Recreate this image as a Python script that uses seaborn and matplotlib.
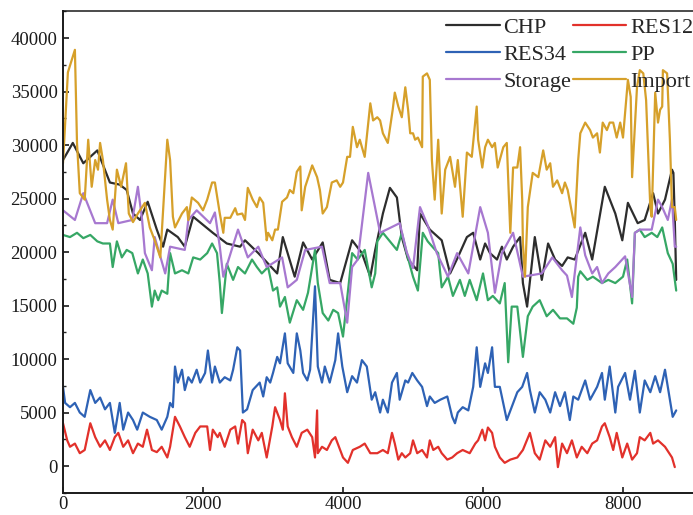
import matplotlib
matplotlib.use("Agg")
import matplotlib.pyplot as plt
import seaborn as sns

# ---- hourly-dispatch samples (x = hour of year, y = power) ----
chp_x = [0, 140, 290, 490, 670, 810, 910, 1000, 1100, 1210,
         1340, 1430, 1490, 1640, 1740, 1860, 2140, 2340, 2530, 2600,
         2790, 3060, 3140, 3310, 3430, 3560, 3710, 3810, 3960, 4130,
         4270, 4390, 4460, 4570, 4670, 4770, 4840, 4930, 5060, 5100,
         5240, 5410, 5530, 5640, 5770, 5860, 5960, 6030, 6100, 6200,
         6270, 6340, 6430, 6530, 6570, 6630, 6740, 6840, 6930, 7030,
         7130, 7210, 7310, 7460, 7560, 7740, 7890, 7990, 8070, 8210,
         8310, 8430, 8500, 8600, 8700, 8720, 8740, 8760]
chp_y = [28600, 30200, 28300, 29500, 26500, 26300, 25800, 23600, 23000, 24700,
         22100, 20500, 22100, 21400, 20500, 23300, 21800, 20800, 20500, 21100,
         19900, 18000, 21400, 17700, 20900, 19300, 20900, 17400, 17100, 21100,
         19900, 17700, 20200, 23600, 26000, 25100, 21400, 19300, 18300, 23600,
         22100, 21100, 18000, 19500, 21400, 21800, 19300, 20800, 19900, 19300,
         20500, 19300, 20500, 21400, 17100, 14900, 21400, 17400, 20800, 19300,
         18700, 19500, 19300, 21800, 19300, 26100, 23600, 21100, 24600, 22700,
         23000, 25500, 23600, 24900, 27700, 27400, 23000, 17400]

res12_x = [0, 60, 100, 170, 240, 310, 390, 460, 530, 600,
           670, 740, 790, 860, 930, 1000, 1070, 1140, 1200, 1270,
           1340, 1410, 1490, 1530, 1600, 1670, 1740, 1810, 1890, 1960,
           2060, 2100, 2140, 2210, 2240, 2310, 2390, 2460, 2500, 2560,
           2600, 2640, 2710, 2790, 2840, 2910, 2990, 3030, 3100, 3140,
           3170, 3210, 3270, 3340, 3410, 3490, 3560, 3600, 3630, 3640,
           3700, 3770, 3840, 3890, 3960, 4000, 4070, 4140, 4240, 4310,
           4390, 4490, 4570, 4640, 4700, 4740, 4790, 4840, 4890, 4960,
           5000, 5060, 5130, 5200, 5240, 5290, 5360, 5410, 5490, 5560,
           5630, 5710, 5810, 5890, 5930, 5990, 6030, 6070, 6130, 6170,
           6240, 6310, 6390, 6490, 6570, 6670, 6740, 6810, 6890, 6960,
           7030, 7070, 7130, 7200, 7270, 7340, 7410, 7490, 7560, 7630,
           7700, 7740, 7810, 7860, 7910, 7990, 8060, 8130, 8200, 8240,
           8310, 8390, 8430, 8500, 8600, 8700, 8740]
res12_y = [4000, 2400, 1800, 2100, 1200, 1500, 4000, 2700, 1800, 2400,
           1500, 2700, 3100, 1800, 2400, 1200, 2100, 1800, 3400, 1500,
           1300, 1800, 800, 1800, 4600, 3700, 2700, 1800, 3100, 3700,
           3700, 1500, 3400, 2700, 3100, 1800, 3400, 3700, 2100, 4300,
           4000, 1200, 3400, 2400, 3100, 800, 3700, 5500, 4300, 3400,
           6800, 3700, 2700, 1800, 3100, 3400, 2700, 800, 5200, 1200,
           1800, 1500, 2400, 2700, 1500, 800, 300, 1500, 1800, 2100,
           1200, 1200, 1500, 1200, 3100, 2100, 600, 1200, 800, 1200,
           2400, 1200, 1500, 800, 2400, 1500, 1800, 1200, 600, 800,
           1200, 1500, 1200, 2100, 2400, 3400, 2400, 3600, 3100, 1800,
           800, 300, 600, 800, 1500, 3100, 1200, 600, 2400, 1800,
           2700, -100, 2100, 1200, 2400, 800, 1800, 1200, 2100, 2400,
           3700, 4000, 2700, 1500, 3100, 800, 2100, 600, 1200, 2700,
           2400, 3100, 2100, 2400, 1800, 800, -100]

res34_x = [0, 30, 100, 170, 240, 310, 390, 460, 530, 600,
           670, 740, 810, 860, 930, 1000, 1060, 1140, 1240, 1340,
           1410, 1490, 1530, 1570, 1600, 1640, 1700, 1740, 1790, 1840,
           1910, 1960, 2030, 2070, 2130, 2170, 2240, 2310, 2390, 2430,
           2490, 2530, 2570, 2630, 2710, 2810, 2860, 2910, 2960, 3000,
           3060, 3100, 3170, 3210, 3290, 3340, 3390, 3430, 3490, 3530,
           3560, 3600, 3640, 3700, 3740, 3810, 3890, 3930, 3990, 4060,
           4130, 4200, 4270, 4340, 4410, 4460, 4530, 4570, 4640, 4700,
           4770, 4810, 4890, 4930, 4990, 5060, 5130, 5200, 5240, 5310,
           5390, 5490, 5560, 5600, 5640, 5710, 5790, 5860, 5910, 5960,
           6030, 6070, 6130, 6170, 6240, 6340, 6410, 6490, 6560, 6630,
           6670, 6740, 6810, 6890, 6960, 7030, 7100, 7170, 7240, 7290,
           7360, 7460, 7530, 7630, 7700, 7740, 7810, 7890, 7930, 8030,
           8100, 8170, 8240, 8310, 8390, 8460, 8530, 8600, 8670, 8710,
           8760]
res34_y = [7400, 5900, 5500, 5900, 5000, 4600, 7100, 5900, 6400, 5300,
           5900, 3100, 5900, 3400, 5000, 4300, 3400, 5000, 4600, 4300,
           3400, 4600, 5900, 5500, 9300, 7800, 9000, 7100, 8300, 7800,
           9000, 7800, 8700, 10800, 7800, 9300, 7800, 8300, 8000, 9000,
           11100, 10800, 5000, 5300, 7100, 7800, 6500, 8300, 7800, 8700,
           10200, 9600, 12400, 9600, 8700, 12400, 10800, 8700, 8000, 9000,
           12400, 16800, 9300, 7800, 9300, 7800, 9900, 12400, 9300, 6900,
           8400, 7800, 9900, 9300, 6200, 6900, 5000, 6200, 5000, 7800,
           8700, 6200, 8000, 7800, 8700, 8000, 7400, 5600, 6500, 5900,
           6200, 6500, 4600, 4000, 5000, 5500, 5200, 7400, 11100, 7400,
           9600, 8700, 11100, 7400, 7400, 4300, 5500, 6900, 7400, 8700,
           7100, 5000, 6900, 6200, 5000, 6900, 5600, 6900, 4300, 6500,
           6200, 8000, 6200, 7400, 8700, 6200, 9300, 5000, 7400, 8700,
           6200, 8900, 5000, 8000, 6900, 8400, 6900, 9000, 6200, 4600,
           5200]

pp_x = [0, 100, 200, 290, 390, 490, 570, 670, 710, 770,
        840, 910, 990, 1070, 1140, 1210, 1270, 1310, 1360, 1410,
        1490, 1530, 1600, 1700, 1790, 1860, 1960, 2060, 2130, 2200,
        2240, 2270, 2340, 2430, 2500, 2600, 2700, 2770, 2840, 2930,
        3000, 3060, 3100, 3170, 3240, 3340, 3430, 3500, 3600, 3640,
        3710, 3790, 3860, 3930, 4000, 4130, 4210, 4310, 4410, 4460,
        4490, 4570, 4670, 4770, 4840, 4910, 5000, 5070, 5140, 5210,
        5290, 5360, 5410, 5500, 5570, 5670, 5740, 5810, 5910, 6000,
        6070, 6140, 6240, 6310, 6360, 6410, 6490, 6570, 6640, 6710,
        6810, 6910, 7000, 7100, 7200, 7290, 7340, 7360, 7390, 7490,
        7570, 7700, 7790, 7890, 8000, 8060, 8130, 8170, 8240, 8310,
        8410, 8490, 8560, 8600, 8640, 8710, 8760]
pp_y = [21600, 21400, 21800, 21300, 21600, 21000, 20800, 20800, 18600, 21000,
        19500, 20200, 19900, 18000, 19300, 18000, 14900, 16400, 15500, 16400,
        16100, 19900, 18000, 18300, 18000, 19500, 19300, 19900, 20800, 19900,
        17100, 14300, 18900, 17400, 18600, 18000, 19300, 18600, 18000, 18600,
        16400, 16700, 14900, 15800, 13400, 15500, 14600, 16200, 20200, 17100,
        14300, 13600, 14600, 14300, 12100, 19900, 19300, 20200, 16700, 18000,
        21000, 21800, 21000, 20200, 21800, 19900, 17700, 16400, 21800, 21000,
        20400, 19900, 16700, 17700, 15900, 17400, 15900, 17400, 15500, 18000,
        15500, 15900, 15200, 17100, 9700, 14900, 14900, 10200, 14000, 14900,
        15500, 14000, 14600, 13800, 13800, 13300, 14800, 17700, 18200, 17400,
        17700, 17100, 17400, 17100, 17700, 19300, 15200, 21800, 22100, 21400,
        21800, 21400, 22300, 21100, 19900, 18900, 16400]

storage_x = [0, 170, 290, 460, 630, 710, 790, 990, 1070, 1130,
             1170, 1270, 1310, 1460, 1530, 1740, 1790, 1910, 2100, 2170,
             2240, 2290, 2500, 2640, 2790, 2910, 3130, 3210, 3340, 3460,
             3700, 3810, 3960, 4060, 4130, 4210, 4360, 4530, 4810, 4910,
             5000, 5100, 5210, 5340, 5500, 5630, 5790, 5960, 6070, 6170,
             6270, 6430, 6570, 6840, 6990, 7130, 7200, 7270, 7390, 7460,
             7560, 7630, 7700, 7790, 7890, 8030, 8130, 8170, 8240, 8410,
             8500, 8560, 8600, 8640, 8700, 8740, 8760]
storage_y = [23900, 23000, 25500, 22700, 22700, 24900, 22700, 23000, 26100, 23000,
             19900, 18300, 21400, 18000, 20500, 20200, 23000, 23900, 22700, 23700,
             20500, 17700, 22100, 19500, 20500, 18600, 19500, 16700, 17400, 20200,
             20500, 17100, 17100, 13400, 18600, 19300, 27400, 21800, 22700, 20000,
             18500, 24200, 22500, 19900, 17700, 19900, 18000, 24200, 21800, 16200,
             19900, 21800, 17700, 18000, 19500, 18300, 17800, 15800, 22300, 19700,
             18000, 18600, 17100, 18000, 18600, 19600, 15800, 21800, 22100, 22100,
             24900, 24200, 23600, 23000, 24900, 20500, 20500]

import_x = [0, 70, 170, 200, 240, 310, 360, 410, 460, 500,
            530, 570, 630, 670, 710, 770, 830, 900, 940, 1000,
            1070, 1170, 1240, 1310, 1390, 1490, 1530, 1570, 1600, 1700,
            1770, 1790, 1840, 1930, 2000, 2060, 2130, 2170, 2240, 2290,
            2310, 2390, 2460, 2490, 2560, 2600, 2640, 2710, 2770, 2810,
            2860, 2910, 2930, 2990, 3030, 3070, 3130, 3200, 3240, 3290,
            3340, 3390, 3410, 3460, 3560, 3630, 3670, 3710, 3770, 3840,
            3910, 3960, 4000, 4060, 4100, 4140, 4200, 4240, 4310, 4390,
            4430, 4490, 4530, 4570, 4640, 4710, 4740, 4790, 4840, 4890,
            4930, 4960, 5000, 5030, 5070, 5130, 5140, 5200, 5240, 5270,
            5310, 5360, 5410, 5460, 5530, 5600, 5640, 5710, 5770, 5840,
            5910, 5930, 5990, 6030, 6070, 6130, 6170, 6210, 6290, 6340,
            6390, 6430, 6490, 6530, 6560, 6570, 6600, 6640, 6710, 6790,
            6860, 6910, 6960, 7000, 7060, 7130, 7170, 7210, 7290, 7310,
            7360, 7390, 7460, 7530, 7570, 7630, 7670, 7710, 7770, 7810,
            7860, 7910, 7960, 8000, 8060, 8070, 8110, 8130, 8200, 8240,
            8290, 8330, 8390, 8410, 8460, 8500, 8530, 8560, 8570, 8630,
            8670, 8700, 8740, 8760]
import_y = [28300, 36800, 38900, 30200, 25500, 24900, 30500, 26100, 28600, 27700,
            30200, 28600, 24900, 23000, 22100, 27700, 26100, 28300, 23600, 22800,
            23600, 24600, 22300, 21100, 19500, 30500, 28600, 23300, 22300, 23600,
            24200, 23000, 25100, 24600, 23900, 24900, 26500, 26500, 23600, 21800,
            23200, 23200, 24100, 23500, 23600, 23000, 26000, 24900, 24200, 25100,
            24600, 21100, 21800, 21100, 22100, 22100, 24700, 25100, 25800, 25500,
            27500, 28000, 23900, 26100, 28100, 27000, 25800, 23600, 24200, 26500,
            26700, 26100, 26500, 28900, 28900, 31700, 29800, 30500, 28900, 33900,
            32300, 32600, 32300, 31100, 30200, 33300, 34900, 33600, 32600, 35400,
            33300, 31100, 31100, 30500, 30700, 29800, 36400, 36700, 36100, 28600,
            24900, 30500, 23600, 27700, 28900, 26100, 28600, 23300, 29300, 28900,
            33600, 30500, 27900, 29800, 30500, 29800, 30200, 27900, 29800, 30200,
            21800, 27900, 27900, 29800, 24900, 20800, 17700, 24200, 27400, 27000,
            29500, 27700, 28300, 26100, 26700, 25500, 26500, 25800, 23000, 22300,
            28600, 31100, 32100, 31400, 30700, 31100, 29300, 32100, 31400, 32100,
            32100, 30700, 32100, 30700, 35400, 36100, 34500, 27000, 35400, 37000,
            36700, 34200, 24200, 23300, 34900, 32100, 33300, 33600, 37000, 36700,
            30500, 24200, 24200, 23000]

series = [
    ("CHP", chp_x, chp_y, "#2d2d2d"),
    ("RES12", res12_x, res12_y, "#e2312b"),
    ("RES34", res34_x, res34_y, "#2e62b5"),
    ("PP", pp_x, pp_y, "#36a765"),
    ("Storage", storage_x, storage_y, "#a778d0"),
    ("Import", import_x, import_y, "#d6a02a"),
]

sns.set_theme(style="ticks")
plt.rcParams["font.family"] = ["Liberation Serif", "DejaVu Serif"]

fig = plt.figure(figsize=(6.93, 5.15), dpi=100)
ax = fig.add_axes([63 / 693, 22 / 515, 633 / 693, 482 / 515])

handles = {}
for name, xs, ys, col in series:
    sns.lineplot(x=xs, y=ys, ax=ax, color=col, linewidth=1.6, label=name,
                 sort=False, estimator=None, legend=False)
    handles[name] = ax.get_lines()[-1]

ax.set_xlim(0, 633 / 0.07)
ax.set_ylim(-2520, 42530)
ax.set_xticks([0, 2000, 4000, 6000, 8000])
ax.set_yticks(range(0, 40001, 5000))
ax.set_yticks(range(-2500, 42501, 2500), minor=True)
ax.tick_params(axis="both", which="major", direction="in", length=4,
               width=1.2, labelsize=13.5, colors="#1a1a1a", pad=4)
ax.tick_params(axis="y", which="minor", direction="in", length=2.5, width=1.0)
ax.tick_params(axis="x", which="major", pad=2.5)
for side, sp in ax.spines.items():
    sp.set_color("#1a1a1a")
    sp.set_linewidth(1.4)
ax.spines["top"].set_linewidth(1.1)

order = ["CHP", "RES34", "Storage", "RES12", "PP", "Import"]
ax.legend([handles[n] for n in order], order, ncol=2, frameon=False,
          loc="upper right", bbox_to_anchor=(693 / 693, 1 - 17 / 515),
          bbox_transform=fig.transFigure, fontsize=16, handlelength=2.4,
          handletextpad=0.18, columnspacing=0.05, labelspacing=0.3,
          borderpad=0, borderaxespad=0)

fig.savefig("out.png", dpi=100)
